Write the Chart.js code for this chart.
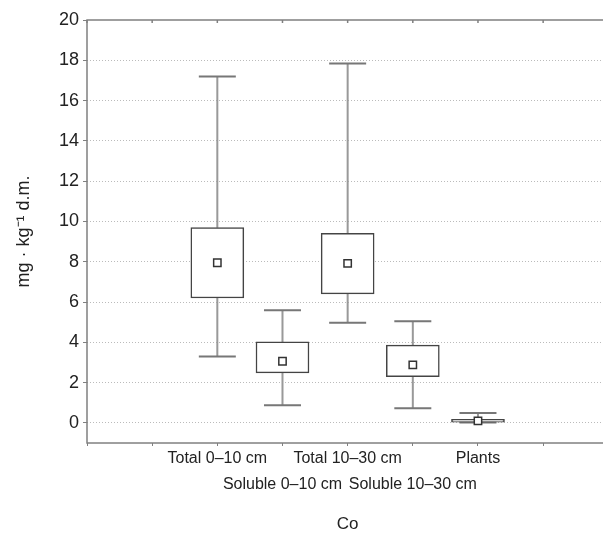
<!DOCTYPE html>
<html>
<head>
<meta charset="utf-8">
<script src="https://cdn.jsdelivr.net/npm/chart.js@4"></script>
<style>
  html, body { margin: 0; padding: 0; background: #fff; overflow: hidden; }
  #wrap { width: 615px; height: 533px; }
</style>
</head>
<body>
<div id="wrap"><canvas id="co-chart"></canvas></div>
<script>
const categories = ['Total 0–10 cm', 'Soluble 0–10 cm', 'Total 10–30 cm', 'Soluble 10–30 cm', 'Plants'];
const whiskerMin = [3.3, 0.88, 4.97, 0.73, 0.02];
const boxLow = [6.2, 2.48, 6.4, 2.29, 0.03];
const meanValues = [7.95, 3.06, 7.92, 2.88, 0.1];
const boxHigh = [9.69, 4.02, 9.41, 3.86, 0.17];
const whiskerMax = [17.2, 5.59, 17.84, 5.05, 0.49];
const yTicks = [0, 2, 4, 6, 8, 10, 12, 14, 16, 18, 20];

// first category sits on x = 2, then one unit apart
const xOf = (i) => i + 2;

const whiskers = {
  id: 'whiskers',
  beforeDatasetsDraw(chart) {
    const { ctx, scales: { x, y } } = chart;
    const capHalf = 18.5;
    ctx.save();
    categories.forEach((c, i) => {
      const px = x.getPixelForValue(xOf(i));
      ctx.strokeStyle = '#999';
      ctx.lineWidth = 2;
      ctx.beginPath();
      ctx.moveTo(px, y.getPixelForValue(whiskerMax[i]));
      ctx.lineTo(px, y.getPixelForValue(boxHigh[i]));
      ctx.moveTo(px, y.getPixelForValue(boxLow[i]));
      ctx.lineTo(px, y.getPixelForValue(whiskerMin[i]));
      ctx.stroke();
      ctx.strokeStyle = '#777';
      ctx.beginPath();
      [whiskerMax[i], whiskerMin[i]].forEach((v) => {
        const py = y.getPixelForValue(v);
        ctx.moveTo(px - capHalf, py);
        ctx.lineTo(px + capHalf, py);
      });
      ctx.stroke();
    });
    ctx.restore();
  },
  afterDraw(chart) {
    const { ctx, chartArea: a, scales: { x } } = chart;
    ctx.save();
    ctx.strokeStyle = '#808080';
    ctx.lineWidth = 1.5;
    ctx.strokeRect(a.left, a.top, a.right - a.left, a.bottom - a.top);
    ctx.beginPath();
    x.ticks.forEach((t) => {
      const px = x.getPixelForValue(t.value);
      ctx.moveTo(px, a.top);
      ctx.lineTo(px, a.top + 3);
    });
    ctx.stroke();
    ctx.restore();
  },
};

new Chart(document.getElementById('co-chart'), {
  type: 'bar',
  data: {
    datasets: [
      {
        label: 'box',
        order: 1,
        data: categories.map((c, i) => ({ x: xOf(i), y: [boxLow[i], boxHigh[i]] })),
        backgroundColor: '#fff',
        borderColor: '#444',
        borderWidth: 1.5,
        borderSkipped: false,
        barThickness: 53,
      },
      {
        type: 'scatter',
        label: 'mean',
        order: 0,
        data: categories.map((c, i) => ({ x: xOf(i), y: meanValues[i] })),
        pointStyle: 'rect',
        pointRadius: 5.2,
        pointBorderWidth: 1.5,
        borderColor: '#333',
        backgroundColor: '#fff',
      },
    ],
  },
  options: {
    responsive: true,
    maintainAspectRatio: false,
    animation: false,
    layout: { padding: { top: 20, right: 4 } },
    plugins: { legend: { display: false }, tooltip: { enabled: false } },
    scales: {
      x: {
        type: 'linear',
        offset: false,
        min: 0,
        max: 8,
        grid: { drawOnChartArea: false, tickLength: 3, color: '#808080', offset: false },
        border: { display: false },
        ticks: {
          stepSize: 1,
          padding: 0,
          maxRotation: 0,
          autoSkip: false,
          color: '#222',
          font: { family: 'Liberation Sans', size: 16, lineHeight: 1.625 },
          callback: (v) => {
            const i = v - 2;
            if (i < 0 || i >= categories.length) return '';
            return i % 2 === 0 ? categories[i] : ['', categories[i]];
          },
        },
        title: {
          display: true,
          text: 'Co',
          color: '#222',
          font: { family: 'Liberation Sans', size: 17, lineHeight: 1 },
          padding: { top: 18, bottom: 0 },
        },
      },
      y: {
        min: -1,
        max: 20,
        afterBuildTicks: (scale) => {
          scale.ticks = yTicks.map((v) => ({ value: v }));
        },
        afterFit: (scale) => {
          scale.width = 87;
        },
        grid: {
          color: (ctx) => (ctx.tick && ctx.tick.value === 20 ? 'rgba(0,0,0,0)' : '#bbb'),
          tickColor: '#808080',
          tickLength: 4,
          lineWidth: 1,
        },
        border: { display: false, dash: [1, 2] },
        ticks: {
          padding: 4,
          color: '#222',
          font: { family: 'Liberation Sans', size: 18 },
        },
        title: {
          display: true,
          text: 'mg · kg⁻¹ d.m.',
          color: '#222',
          font: { family: 'Liberation Sans', size: 18 },
          padding: { top: 13, bottom: 0 },
        },
      },
    },
  },
  plugins: [whiskers],
});
</script>
</body>
</html>
